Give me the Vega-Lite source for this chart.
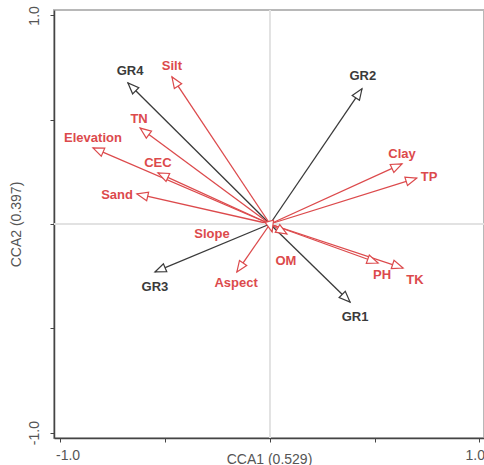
{
  "$schema": "https://vega.github.io/schema/vega-lite/v6.json",
  "width": 430,
  "height": 428,
  "autosize": {"type": "none"},
  "padding": {"left": 54, "top": 10, "right": 0, "bottom": 27},
  "background": "white",
  "view": {"stroke": "#b8b8b8", "strokeWidth": 2},
  "config": {"font": "Liberation Sans"},
  "data": {
    "values": [
      {"name": "GR4", "type": "species", "x": -0.678, "y": 0.676, "lx": -0.668, "ly": 0.734},
      {"name": "Silt", "type": "env", "x": -0.468, "y": 0.705, "lx": -0.468, "ly": 0.758},
      {"name": "TN", "type": "env", "x": -0.62, "y": 0.46, "lx": -0.625, "ly": 0.504},
      {"name": "Elevation", "type": "env", "x": -0.845, "y": 0.365, "lx": -0.845, "ly": 0.412},
      {"name": "CEC", "type": "env", "x": -0.535, "y": 0.245, "lx": -0.535, "ly": 0.293},
      {"name": "Sand", "type": "env", "x": -0.635, "y": 0.144, "lx": -0.73, "ly": 0.139},
      {"name": "GR2", "type": "species", "x": 0.439, "y": 0.648, "lx": 0.443, "ly": 0.71},
      {"name": "Clay", "type": "env", "x": 0.63, "y": 0.288, "lx": 0.63, "ly": 0.336},
      {"name": "TP", "type": "env", "x": 0.70, "y": 0.22, "lx": 0.759, "ly": 0.225},
      {"name": "Slope", "type": "env", "x": 0.01, "y": -0.038, "lx": -0.277, "ly": -0.048},
      {"name": "GR3", "type": "species", "x": -0.549, "y": -0.23, "lx": -0.549, "ly": -0.302},
      {"name": "Aspect", "type": "env", "x": -0.158, "y": -0.23, "lx": -0.162, "ly": -0.283},
      {"name": "OM", "type": "env", "x": 0.081, "y": -0.048, "lx": 0.076, "ly": -0.177},
      {"name": "PH", "type": "env", "x": 0.516, "y": -0.187, "lx": 0.535, "ly": -0.245},
      {"name": "TK", "type": "env", "x": 0.635, "y": -0.211, "lx": 0.692, "ly": -0.269},
      {"name": "GR1", "type": "species", "x": 0.382, "y": -0.374, "lx": 0.406, "ly": -0.446}
    ]
  },
  "layer": [
    {
      "mark": {"type": "rule", "strokeWidth": 1.3},
      "encoding": {
        "x": {"field": "x", "type": "quantitative", "scale": {"domain": [-1.031, 1.0215], "nice": false, "zero": false},
          "axis": {
            "values": [-1, -0.5, 0, 0.5, 1],
            "labelExpr": "datum.value == -1 ? '-1.0' : (datum.value == 1 ? '1.0' : '')",
            "title": "CCA1 (0.529)", "titleFontWeight": "normal", "titleFontSize": 14, "titleColor": "#555",
            "titleBaseline": "alphabetic", "titleY": 25,
            "grid": false, "tickSize": 4, "tickColor": "#444", "domainColor": "#444", "domainWidth": 1.5,
            "labelColor": "#555", "labelFontSize": 14, "labelPadding": 6, "labelFlush": 10, "labelFlushOffset": 5,
            "labelOverlap": false, "labelBound": false
          }
        },
        "y": {"field": "y", "type": "quantitative", "scale": {"domain": [-1.026, 1.026], "nice": false, "zero": false},
          "axis": {
            "values": [-1, -0.5, 0, 0.5, 1],
            "labelExpr": "datum.value == -1 ? '-1.0' : (datum.value == 1 ? '1.0' : '')",
            "title": "CCA2 (0.397)", "titleFontWeight": "normal", "titleFontSize": 14, "titleColor": "#555",
            "titleAngle": 270, "titleBaseline": "middle", "titleAlign": "center", "titleX": -38, "titleY": 214,
            "grid": false, "tickSize": 4, "tickColor": "#444", "domainColor": "#444", "domainWidth": 1.5,
            "labelColor": "#555", "labelFontSize": 14, "labelAngle": 270, "labelPadding": 9, "labelFlush": 10, "labelFlushOffset": 4,
            "labelOverlap": false, "labelBound": false
          }
        },
        "x2": {"datum": 0},
        "y2": {"datum": 0},
        "color": {"field": "type", "type": "nominal", "scale": {"domain": ["env", "species"], "range": ["#dc4a4c", "#3a3a3a"]}, "legend": null}
      }
    },
    {
      "mark": {"type": "rule", "color": "#e2e2e2", "strokeWidth": 1.2},
      "encoding": {"x": {"datum": 0, "type": "quantitative"}}
    },
    {
      "mark": {"type": "rule", "color": "#e2e2e2", "strokeWidth": 1.2},
      "encoding": {"y": {"datum": 0, "type": "quantitative"}}
    },
    {
      "mark": {
        "type": "point",
        "shape": "M0,0L-0.4,1L0.4,1Z",
        "size": 480,
        "filled": false,
        "fill": "white",
        "fillOpacity": 1,
        "strokeWidth": 1.2,
        "opacity": 1,
        "angle": {"expr": "90 - atan2(datum.y, datum.x) * 180 / PI"}
      },
      "encoding": {
        "x": {"field": "x", "type": "quantitative"},
        "y": {"field": "y", "type": "quantitative"},
        "color": {"field": "type", "type": "nominal", "legend": null}
      }
    },
    {
      "mark": {"type": "text", "fontWeight": "bold", "fontSize": 13, "align": "center", "baseline": "middle"},
      "encoding": {
        "x": {"field": "lx", "type": "quantitative"},
        "y": {"field": "ly", "type": "quantitative"},
        "text": {"field": "name"},
        "color": {"field": "type", "type": "nominal", "legend": null}
      }
    }
  ]
}
